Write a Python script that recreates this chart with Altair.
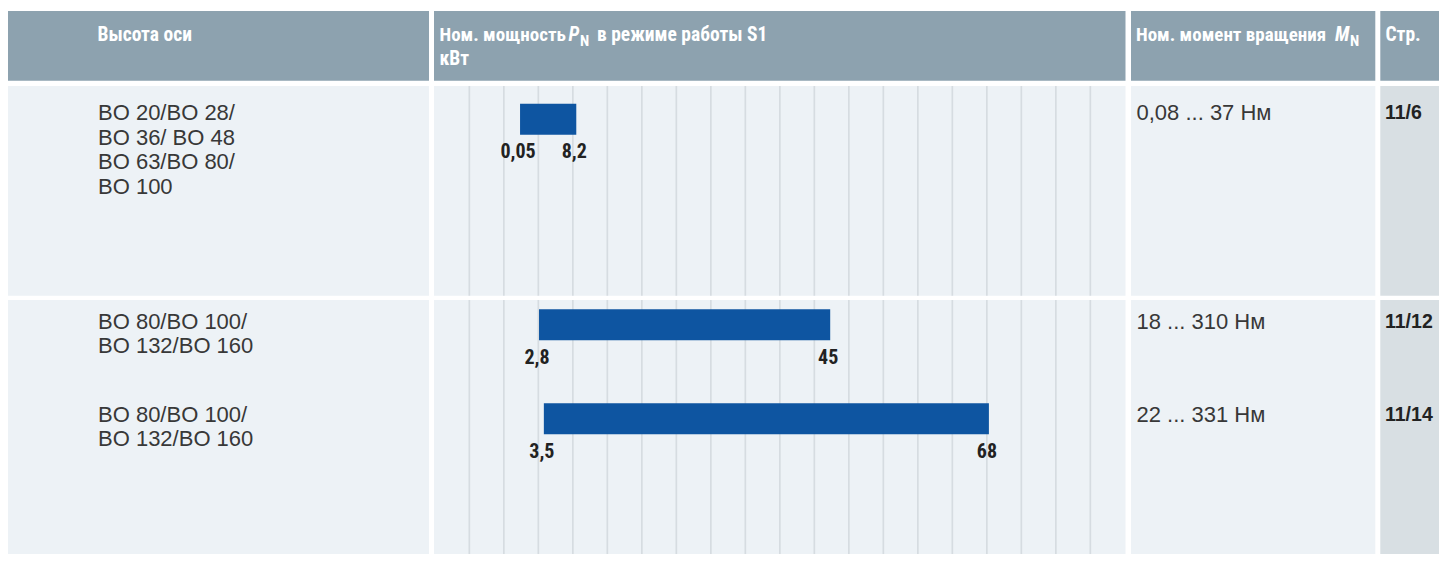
import altair as alt
import pandas as pd

# ---------------- data ----------------
axis_heights = [
    "BO 20/BO 28/\nBO 36/ BO 48\nBO 63/BO 80/\nBO 100",
    "BO 80/BO 100/\nBO 132/BO 160",
    "BO 80/BO 100/\nBO 132/BO 160",
]
power_min = [0.05, 2.8, 3.5]
power_max = [8.2, 45, 68]
power_min_labels = ["0,05", "2,8", "3,5"]
power_max_labels = ["8,2", "45", "68"]
torque_ranges = ["0,08 ... 37 Нм", "18 ... 310 Нм", "22 ... 331 Нм"]
pages = ["11/6", "11/12", "11/14"]
grid_kw = [-7.3, -2.3, 2.7, 7.7, 12.7, 17.7, 22.7, 27.7, 32.7, 37.7,
           42.7, 47.7, 52.7, 57.7, 62.7, 67.7, 72.7, 77.7, 82.7]
header_col1 = "Высота оси"
header_col2 = ["Ном. мощность", "P", "N", "в режиме работы S1", "кВт"]
header_col3 = ["Ном. момент вращения", "M", "N"]
header_col4 = "Стр."

# ---------------- layout (reference pixel coordinates) ----------------
O = 8
W, H = 1431, 546
HDR = (11, 80.7)
ROW1 = (86, 295.7)
ROW2 = (300, 566)
COL1 = (8, 429)
COL2 = (434, 1125.5)
COL3 = (1131, 1375.3)
COL4 = (1380.3, 1447)
ROW_TEXT_Y = [109, 321.4, 416.2]
ROW_BAR_Y = [116.3, 325.5, 421.3]

C_HEAD = "#8da2af"
C_BODY = "#edf2f6"
C_BODY4 = "#d8dfe3"
C_GRID = "#d6dce1"
C_BAR = "#0e55a1"
C_TXT = "#383838"

NARROW = "Roboto Condensed, Liberation Sans Narrow, Roboto, sans-serif"
SANS = "Liberation Sans, Arial, sans-serif"

df = pd.DataFrame({
    "axis": axis_heights,
    "lo": power_min,
    "hi": power_max,
    "lo_lbl": power_min_labels,
    "hi_lbl": power_max_labels,
    "torque": torque_ranges,
    "page": pages,
    "text_y": ROW_TEXT_Y,
    "bar_y": ROW_BAR_Y,
})
grid_df = pd.DataFrame({"kw": grid_kw})
one = pd.DataFrame({"k": [0]})

A = 519.7  # x pixel of 0 kW
B = 6.9    # px per kW
xscale = alt.Scale(domain=[(COL2[0] - A) / B, (COL2[1] - A) / B],
                   range=[COL2[0] - O, COL2[1] - O], nice=False, zero=False)
yscale = alt.Scale(domain=[O, O + H], range=[0, H], nice=False, zero=False)


def clipx(v):
    return max(0, min(W, v - O))


def clipy(v):
    return max(0, min(H, v - O))


def rect(x0, x1, y0, y1, color):
    return alt.Chart(one).mark_rect(color=color).encode(
        x=alt.value(clipx(x0)), x2=alt.value(clipx(x1)),
        y=alt.value(clipy(y0)), y2=alt.value(clipy(y1)))


def htext(t, x, y, size=19.5, style="normal", color="white", font=NARROW, weight="bold"):
    return alt.Chart(one).mark_text(
        text=t, align="left", baseline="middle", font=font, fontSize=size,
        fontWeight=weight, fontStyle=style, color=color).encode(
        x=alt.value(x - O), y=alt.value(y - O))


layers = []
for c in (COL1, COL2, COL3, COL4):
    layers.append(rect(c[0], c[1], HDR[0], HDR[1], C_HEAD))
for r in (ROW1, ROW2):
    for c in (COL1, COL2, COL3):
        layers.append(rect(c[0], c[1], r[0], r[1], C_BODY))
    layers.append(rect(COL4[0], COL4[1], r[0], r[1], C_BODY4))

for r in (ROW1, ROW2):
    layers.append(
        alt.Chart(grid_df).mark_rule(color=C_GRID, strokeWidth=1.7).encode(
            x=alt.X("kw:Q", scale=xscale, axis=None),
            y=alt.value(clipy(r[0])), y2=alt.value(clipy(r[1]))))

layers += [
    htext(header_col1, 97.5, 34.5),
    htext(header_col2[0], 439.5, 34.5, size=19),
    htext(header_col2[1], 568.5, 34.5, style="italic"),
    htext(header_col2[2], 580, 41, size=15),
    htext(header_col2[3], 597, 34.5),
    htext(header_col2[4], 439.5, 58.5),
    htext(header_col3[0], 1136, 34.5, size=19),
    htext(header_col3[1], 1335, 34.5, style="italic"),
    htext(header_col3[2], 1350, 41, size=15),
    htext(header_col4, 1385.5, 34.5),
]

base = alt.Chart(df)

bars = base.mark_bar(size=31, color=C_BAR).encode(
    x=alt.X("lo:Q", scale=xscale, axis=None),
    x2="hi:Q",
    y=alt.Y("bar_y:Q", scale=yscale, axis=None),
)
lbl_style = dict(font=NARROW, fontSize=20, fontWeight="bold", color="#222222",
                 align="center", baseline="middle", dy=33, dx=-2)
lo_lbl = base.mark_text(**lbl_style).encode(
    x=alt.X("lo:Q", scale=xscale, axis=None),
    y=alt.Y("bar_y:Q", scale=yscale, axis=None),
    text="lo_lbl:N")
hi_lbl = base.mark_text(**lbl_style).encode(
    x=alt.X("hi:Q", scale=xscale, axis=None),
    y=alt.Y("bar_y:Q", scale=yscale, axis=None),
    text="hi_lbl:N")

axis_txt = base.mark_text(font=SANS, fontSize=22, color=C_TXT, align="left",
                          baseline="alphabetic", lineBreak="\n", lineHeight=24.5, dy=8).encode(
    x=alt.value(98 - O),
    y=alt.Y("text_y:Q", scale=yscale, axis=None),
    text="axis:N")
torque_txt = base.mark_text(font=SANS, fontSize=22, color=C_TXT, align="left",
                            baseline="alphabetic", dy=8).encode(
    x=alt.value(1136.5 - O),
    y=alt.Y("text_y:Q", scale=yscale, axis=None),
    text="torque:N")
page_txt = base.mark_text(font=SANS, fontSize=19.5, fontWeight="bold", color="#222222",
                          align="left", baseline="alphabetic", dy=7.2).encode(
    x=alt.value(1385 - O),
    y=alt.Y("text_y:Q", scale=yscale, axis=None),
    text="page:N")

layers += [bars, lo_lbl, hi_lbl, axis_txt, torque_txt, page_txt]

chart = alt.layer(*layers).properties(
    width=W, height=H,
    autosize=alt.AutoSizeParams(type="none"),
    padding=0,
    background="white",
).configure_view(stroke=None)

chart.save("out.html", embed_options={"renderer": "svg", "actions": False})
